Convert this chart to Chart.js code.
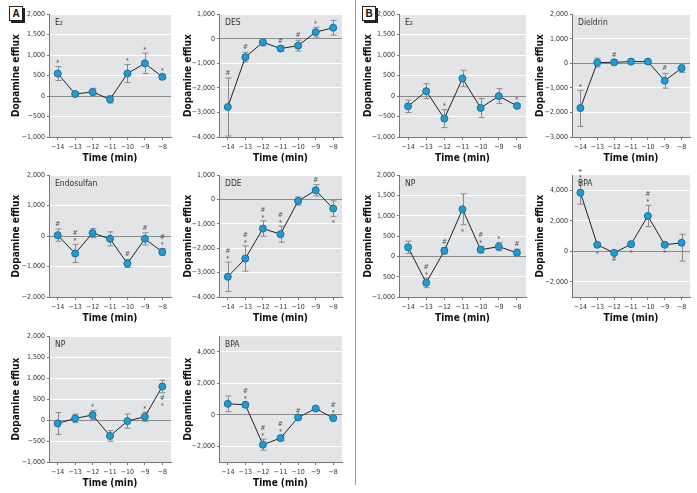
<!DOCTYPE html>
<html>
<head>
<meta charset="utf-8">
<script src="https://cdn.jsdelivr.net/npm/chart.js@4.4.1/dist/chart.umd.min.js"></script>
<style>
  body { margin: 0; background: #fff; width: 697px; height: 493px; position: relative; overflow: hidden; }
  canvas { position: absolute; }
  .tag { position: absolute; width: 12px; height: 13px; border: 1px solid #222; box-shadow: 2px 2px 0 #222;
         font: bold 10px "Liberation Sans", sans-serif; text-align: center; line-height: 13px; background: #fff; color: #111; }
  #divider { position: absolute; left: 355px; top: 0; width: 1px; height: 485px; background: #999; }
</style>
</head>
<body>
<div class="tag" style="left:9px;top:6px">A</div>
<div class="tag" style="left:362px;top:6px">B</div>
<div id="divider"></div>
<script>
// Temps (min) communs à tous les panneaux
const timeLabels = [-14, -13, -12, -11, -10, -9, -8];

// --- A : E2
const aE2Mean = [550, 50, 100, -80, 550, 800, 470];
const aE2Err = [170, 50, 90, 90, 220, 250, 60];
const aE2Above = ["*", "", "", "", "*", "*", "*"];
const aE2Below = ["", "", "", "", "", "", ""];
const aE2Ticks = [-1000, -500, 0, 500, 1000, 1500, 2000];

// --- A : DES
const aDesMean = [-2780, -750, -140, -400, -280, 270, 450];
const aDesErr = [1180, 200, 150, 100, 220, 200, 300];
const aDesAbove = ["#", "#", "", "#", "#", "*", ""];
const aDesBelow = ["", "", "", "", "", "", ""];
const aDesTicks = [-4000, -3000, -2000, -1000, 0, 1000];

// --- A : Endosulfan
const aEndoMean = [30, -570, 100, -90, -900, -90, -520];
const aEndoErr = [200, 300, 150, 230, 130, 200, 110];
const aEndoAbove = ["#", "#*", "", "", "#", "#", "#*"];
const aEndoBelow = ["", "", "", "", "", "", ""];
const aEndoTicks = [-2000, -1000, 0, 1000, 2000];

// --- A : DDE
const aDdeMean = [-3170, -2420, -1190, -1420, -60, 380, -370];
const aDdeErr = [600, 520, 320, 330, 170, 230, 320];
const aDdeAbove = ["#*", "#*", "#*", "#*", "", "#", ""];
const aDdeBelow = ["", "", "", "", "", "", "*"];
const aDdeTicks = [-4000, -3000, -2000, -1000, 0, 1000];

// --- A : NP
const aNpMean = [-80, 40, 120, -380, -25, 80, 800];
const aNpErr = [260, 100, 110, 125, 170, 110, 150];
const aNpAbove = ["", "", "*", "", "", "*", ""];
const aNpBelow = ["", "", "", "", "", "", "#*"];
const aNpTicks = [-1000, -500, 0, 500, 1000, 1500, 2000];

// --- A : BPA
const aBpaMean = [700, 640, -1900, -1480, -170, 400, -210];
const aBpaErr = [500, 150, 350, 170, 100, 80, 100];
const aBpaAbove = ["", "#*", "#*", "#*", "#", "", "#*"];
const aBpaBelow = ["", "", "", "", "", "", ""];
const aBpaTicks = [-2000, 0, 2000, 4000];

// --- B : E2
const bE2Mean = [-250, 120, -550, 430, -290, 0, -240];
const bE2Err = [150, 180, 220, 200, 230, 180, 60];
const bE2Above = ["", "", "*", "", "", "", "*"];
const bE2Below = ["", "", "", "", "", "", ""];
const bE2Ticks = [-1000, -500, 0, 500, 1000, 1500, 2000];

// --- B : Dieldrin
const bDielMean = [-1820, 30, 40, 70, 70, -710, -200];
const bDielErr = [[750, 720], 180, 100, 60, 60, 300, 170];
const bDielAbove = ["*", "", "#", "", "", "#", ""];
const bDielBelow = ["", "", "", "", "", "", ""];
const bDielTicks = [-3000, -2000, -1000, 0, 1000, 2000];

// --- B : NP
const bNpMean = [225, -650, 140, 1160, 165, 240, 90];
const bNpErr = [150, 120, 80, 380, 80, 100, 90];
const bNpAbove = ["", "#*", "#", "", "#*", "*", "#"];
const bNpBelow = ["", "", "", "*", "", "", ""];
const bNpTicks = [-1000, -500, 0, 500, 1000, 1500, 2000];
const bNpTickLabels = ["\u22121,000", "500", "0", "500", "1,000", "1,500", "2,000"];

// --- B : BPA
const bBpaMean = [3850, 430, -100, 470, 2320, 430, 560];
const bBpaErr = [750, 150, 100, 150, 700, 100, [1200, 560]];
const bBpaAbove = ["#*", "", "", "", "#*", "", ""];
const bBpaBelow = ["", "*", "#", "*", "", "*", ""];
const bBpaTicks = [-2000, 0, 2000, 4000];

const FONT = '"DejaVu Sans Condensed", "DejaVu Sans", sans-serif';
const COL1 = { left: 49, right: 172, axisW: 40 };
const COL2 = { left: 219, right: 343, axisW: 38 };
const COL3 = { left: 399, right: 527, axisW: 38 };
const COL4 = { left: 572, right: 691, axisW: 39 };
const ROW1 = { top: 14, bottom: 137 };
const ROW2 = { top: 175, bottom: 297 };
const ROW3 = { top: 336, bottom: 462 };

const panels = [
  { name: "E\u2082", col: COL1, row: ROW1, mean: aE2Mean, err: aE2Err, above: aE2Above, below: aE2Below, ticks: aE2Ticks, min: -1000, max: 2000 },
  { name: "DES", col: COL2, row: ROW1, mean: aDesMean, err: aDesErr, above: aDesAbove, below: aDesBelow, ticks: aDesTicks, min: -4000, max: 1000 },
  { name: "Endosulfan", col: COL1, row: ROW2, mean: aEndoMean, err: aEndoErr, above: aEndoAbove, below: aEndoBelow, ticks: aEndoTicks, min: -2000, max: 2000 },
  { name: "DDE", col: COL2, row: ROW2, mean: aDdeMean, err: aDdeErr, above: aDdeAbove, below: aDdeBelow, ticks: aDdeTicks, min: -4000, max: 1000 },
  { name: "NP", col: COL1, row: ROW3, mean: aNpMean, err: aNpErr, above: aNpAbove, below: aNpBelow, ticks: aNpTicks, min: -1000, max: 2000 },
  { name: "BPA", col: COL2, row: ROW3, mean: aBpaMean, err: aBpaErr, above: aBpaAbove, below: aBpaBelow, ticks: aBpaTicks, min: -3000, max: 5000 },
  { name: "E\u2082", col: COL3, row: ROW1, mean: bE2Mean, err: bE2Err, above: bE2Above, below: bE2Below, ticks: bE2Ticks, min: -1000, max: 2000 },
  { name: "Dieldrin", col: COL4, row: ROW1, mean: bDielMean, err: bDielErr, above: bDielAbove, below: bDielBelow, ticks: bDielTicks, min: -3000, max: 2000 },
  { name: "NP", col: COL3, row: ROW2, mean: bNpMean, err: bNpErr, above: bNpAbove, below: bNpBelow, ticks: bNpTicks, min: -1000, max: 2000, tickLabels: bNpTickLabels },
  { name: "BPA", col: COL4, row: ROW2, mean: bBpaMean, err: bBpaErr, above: bBpaAbove, below: bBpaBelow, ticks: bBpaTicks, min: -3000, max: 5000 }
];

function fmt(v) {
  const s = Math.abs(v).toLocaleString("en-US");
  return v < 0 ? "\u2212" + s : s;
}

function errPair(e) {
  return Array.isArray(e) ? e : [e, e];
}

/** fond gris, barres d'erreur, signes * et #, nom du panneau */
const panelPlugin = {
  id: "panelDeco",
  beforeDraw(chart) {
    const a = chart.chartArea, ctx = chart.ctx;
    ctx.save();
    ctx.fillStyle = "#e3e4e5";
    ctx.fillRect(a.left, a.top, a.right - a.left, a.bottom - a.top);
    ctx.restore();
  },
  beforeDatasetsDraw(chart) {
    const p = chart.options.plugins.panelDeco.panel;
    const ctx = chart.ctx, xs = chart.scales.x, ys = chart.scales.y;
    ctx.save();
    ctx.strokeStyle = "#8a8a8a";
    ctx.lineWidth = 1;
    p.mean.forEach((m, i) => {
      const [dn, up] = errPair(p.err[i]);
      const x = Math.round(xs.getPixelForValue(i)) + 0.5;
      const y1 = ys.getPixelForValue(m + up), y2 = ys.getPixelForValue(m - dn);
      ctx.beginPath();
      ctx.moveTo(x, y1); ctx.lineTo(x, y2);
      ctx.moveTo(x - 3, y1); ctx.lineTo(x + 3, y1);
      ctx.moveTo(x - 3, y2); ctx.lineTo(x + 3, y2);
      ctx.stroke();
    });
    ctx.restore();
  },
  afterDatasetsDraw(chart) {
    const p = chart.options.plugins.panelDeco.panel;
    const ctx = chart.ctx, xs = chart.scales.x, ys = chart.scales.y, a = chart.chartArea;
    ctx.save();
    ctx.fillStyle = "#555";
    ctx.font = "7px " + FONT;
    ctx.textAlign = "center";
    ctx.textBaseline = "middle";
    p.mean.forEach((m, i) => {
      const [dn, up] = errPair(p.err[i]);
      const x = xs.getPixelForValue(i);
      const top = ys.getPixelForValue(m + up);
      const bot = ys.getPixelForValue(m - dn);
      const ab = p.above[i].split("");
      ab.reverse().forEach((c, k) => {
        ctx.fillText(c, x, top - 5 - k * 6 + (c === "*" ? 2 : 0));
      });
      p.below[i].split("").forEach((c, k) => {
        ctx.fillText(c, x, bot + 5 + k * 6 + (c === "*" ? 2 : 0));
      });
    });
    ctx.fillStyle = "#333";
    ctx.font = "8.5px " + FONT;
    ctx.textAlign = "left";
    ctx.fillText(p.name, a.left + 6, a.top + 9);
    ctx.restore();
  }
};

function makePanel(p) {
  const c = p.col, r = p.row;
  const canvas = document.createElement("canvas");
  canvas.width = c.right - c.left + c.axisW + 4;
  canvas.height = r.bottom - r.top + 6 + 27;
  canvas.style.left = (c.left - c.axisW) + "px";
  canvas.style.top = (r.top - 6) + "px";
  document.body.appendChild(canvas);

  new Chart(canvas, {
    type: "line",
    data: {
      labels: timeLabels.map(fmt),
      datasets: [{
        data: p.mean,
        borderColor: "#222",
        borderWidth: 1,
        pointRadius: 3.5,
        pointBackgroundColor: "#1f9bd5",
        pointBorderColor: "#14729f",
        pointBorderWidth: 1,
        tension: 0
      }]
    },
    options: {
      responsive: false,
      animation: false,
      layout: { padding: { top: 6, right: 4, left: 0, bottom: 0 } },
      plugins: {
        legend: { display: false },
        tooltip: { enabled: false },
        panelDeco: { panel: p }
      },
      scales: {
        x: {
          type: "category",
          offset: true,
          grid: { drawOnChartArea: false, tickLength: 3, color: "#777" },
          border: { color: "#777" },
          ticks: { font: { family: FONT, size: 7 }, color: "#333", padding: 3, maxRotation: 0, autoSkip: false },
          title: { display: true, text: "Time (min)", font: { family: FONT, size: 10, weight: "bold" }, color: "#111", padding: 0 },
          afterFit(s) { s.height = 27; }
        },
        y: {
          min: p.min,
          max: p.max,
          afterBuildTicks(s) { s.ticks = p.ticks.map((v) => ({ value: v })); },
          grid: {
            color: (ctx) => (ctx.tick && ctx.tick.value === 0 ? "#8c8c8c" : "#ffffff"),
            tickColor: "#777",
            tickLength: 2
          },
          border: { color: "#777" },
          ticks: {
            font: { family: FONT, size: 7 },
            color: "#333",
            padding: 2,
            callback: (v, i) => (p.tickLabels ? p.tickLabels[i] : fmt(v))
          },
          title: { display: true, text: "Dopamine efflux", font: { family: FONT, size: 10, weight: "bold" }, color: "#111", padding: { top: 1, bottom: 0 } },
          afterFit(s) { s.width = c.axisW; }
        }
      }
    },
    plugins: [panelPlugin]
  });
}

panels.forEach(makePanel);
</script>
</body>
</html>
